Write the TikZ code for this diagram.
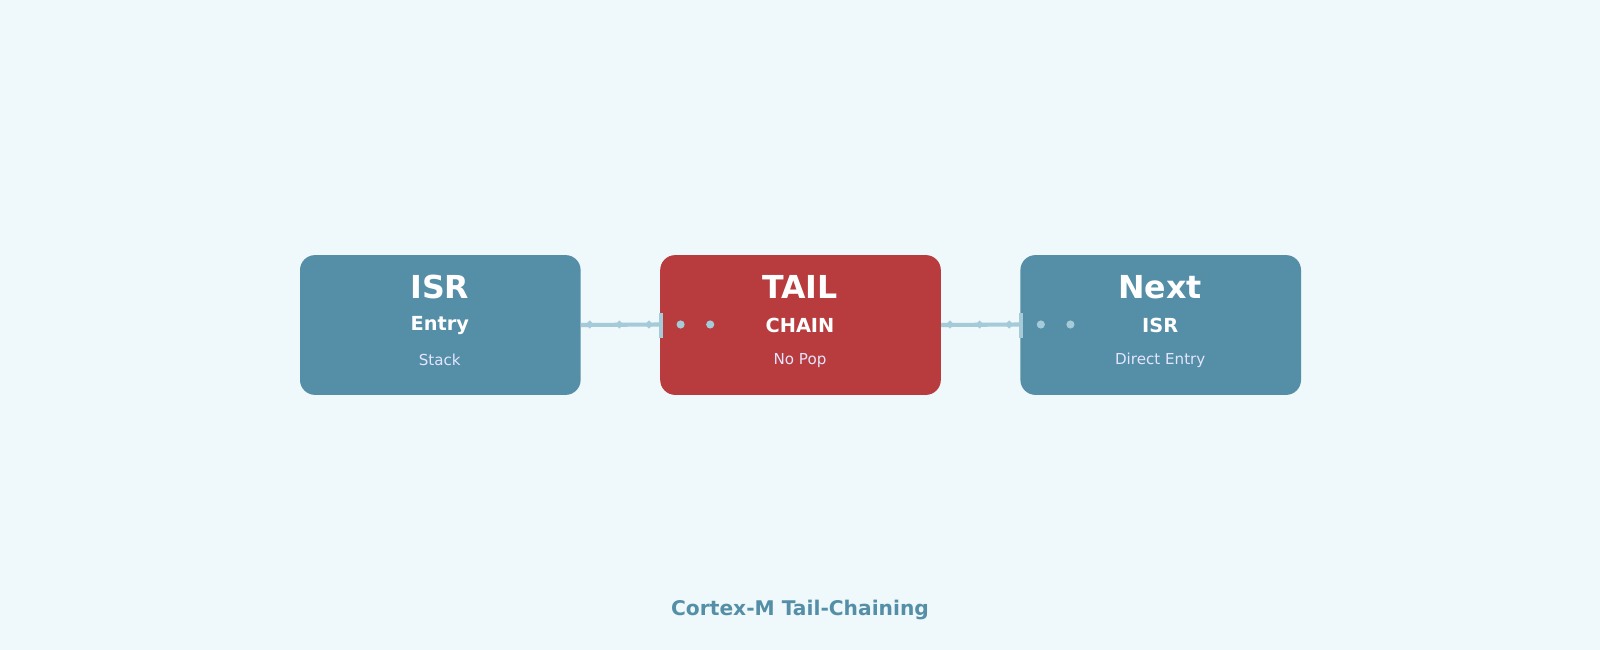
\documentclass[tikz,border=0pt]{standalone}
\usepackage{fontspec}
\setmainfont{DejaVu Sans}
\begin{document}
\begin{tikzpicture}[x=0.020408cm,y=-0.020408cm,
  box/.style={rounded corners=0.3cm,minimum width=275*0.020408cm,minimum height=137*0.020408cm,inner sep=0},
  ttl/.style={text=white,font=\bfseries\fontsize{18}{20}\selectfont},
  sub/.style={text=white,font=\bfseries\fontsize{11}{13}\selectfont},
  sml/.style={text=white!90!blue,font=\fontsize{8.6}{10}\selectfont},
  conn/.style={draw=lnk,line width=4*0.020408cm},
  dot/.style={circle,fill=lnk,inner sep=0,minimum size=8*0.020408cm}]
\definecolor{bg}{HTML}{EFF8FA}
\definecolor{blu}{HTML}{548FA7}
\definecolor{rd}{HTML}{B83B3D}
\definecolor{lnk}{HTML}{A5CAD8}
\fill[bg] (0,0) rectangle (1568,637);
\useasboundingbox (0,0) rectangle (1568,637);
\node[box,fill=blu] (a) at (431.5,318.5) {};
\node[box,fill=rd] (b) at (784.5,318.5) {};
\node[box,fill=blu] (c) at (1137.5,318.5) {};
\foreach \n/\x/\t/\s/\u in {a/431/ISR/Entry/Stack / Save, b/784/TAIL/CHAIN/No Pop / Push, c/1137/Next/ISR/Direct Entry}{
  \node[ttl] (\n t) at (\x,281) {\t};
  \node[sub] (\n s) at (\x,319) {\s};
  \node[sml] (\n u) at (\x,353) {\u};
}
\foreach \p/\q/\o in {a/b/0,b/c/353}{
  \coordinate (\p e) at (\p.east);
  \coordinate (\p bar) at (648+\o,318);
  \draw[conn] (\p.east) -- (\p bar);
  \fill[lnk] (646+\o,307) rectangle (650+\o,331);
  \foreach \d in {578,607,636}{\fill[lnk] (\d+\o,314) -- (\d+4+\o,318) -- (\d+\o,322) -- (\d-4+\o,318) -- cycle;}
  \node[dot] (\p d1) at (667+\o,318) {};
  \node[dot] (\p d2) at (696+\o,318) {};
}
\node[text=blu,font=\bfseries\fontsize{11.5}{13}\selectfont] (title) at (784,598) {Cortex-M Tail-Chaining};
\end{tikzpicture}
\end{document}
